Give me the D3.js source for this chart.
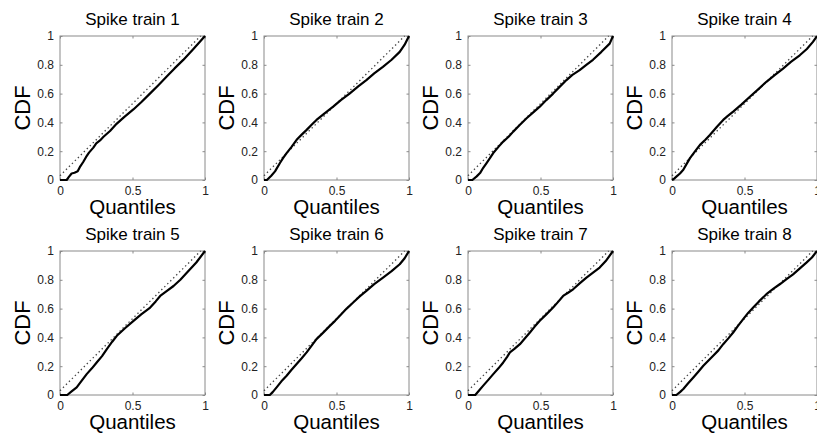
<!DOCTYPE html>
<html>
<head>
<meta charset="utf-8">
<script src="https://cdn.jsdelivr.net/npm/d3@7/dist/d3.min.js"></script>
<style>
  html, body { margin: 0; padding: 0; background: #fff; }
  svg { display: block; }
  text { font-family: "Liberation Sans", Arial, Helvetica, sans-serif; }
</style>
</head>
<body>
<svg id="chart" width="817" height="441"></svg>
<script>
// ---- data ----
const titles = ["Spike train 1","Spike train 2","Spike train 3","Spike train 4",
                "Spike train 5","Spike train 6","Spike train 7","Spike train 8"];
const xTicks = [0, 0.5, 1];
const yTicks = [0, 0.2, 0.4, 0.6, 0.8, 1];
const xLabel = "Quantiles";
const yLabel = "CDF";
// reference (dotted) line endpoints [quantile, cdf]
const refLine = [[0, 0.03], [0.97, 1]];

const train1 = [[0,0],[0.046,0],[0.06,0.02],[0.08,0.045],[0.1,0.05],[0.122,0.06],[0.14,0.095],[0.16,0.125],[0.18,0.16],[0.2,0.19],[0.23,0.225],[0.25,0.255],[0.276,0.275],[0.3,0.3],[0.345,0.34],[0.39,0.39],[0.44,0.435],[0.506,0.49],[0.56,0.54],[0.62,0.60],[0.68,0.66],[0.736,0.718],[0.79,0.775],[0.85,0.834],[0.92,0.91],[1,1]];
const train2 = [[0,0],[0.02,0],[0.05,0.03],[0.076,0.06],[0.11,0.118],[0.13,0.15],[0.156,0.187],[0.19,0.23],[0.225,0.279],[0.26,0.315],[0.294,0.348],[0.33,0.385],[0.362,0.417],[0.42,0.465],[0.477,0.509],[0.53,0.555],[0.59,0.60],[0.65,0.65],[0.706,0.694],[0.76,0.74],[0.82,0.786],[0.88,0.835],[0.936,0.89],[0.97,0.94],[1,1]];
const train3 = [[0,0],[0.03,0],[0.06,0.025],[0.083,0.048],[0.105,0.085],[0.128,0.118],[0.15,0.15],[0.174,0.187],[0.21,0.23],[0.243,0.267],[0.28,0.30],[0.312,0.336],[0.36,0.385],[0.404,0.429],[0.45,0.47],[0.495,0.509],[0.54,0.555],[0.587,0.60],[0.63,0.645],[0.679,0.694],[0.72,0.73],[0.77,0.763],[0.816,0.80],[0.862,0.835],[0.92,0.89],[0.977,0.947],[1,1]];
const train4 = [[0,0],[0.015,0.01],[0.032,0.025],[0.055,0.045],[0.078,0.071],[0.1,0.11],[0.124,0.152],[0.16,0.2],[0.193,0.244],[0.23,0.28],[0.261,0.313],[0.31,0.37],[0.353,0.417],[0.385,0.445],[0.422,0.475],[0.48,0.525],[0.537,0.578],[0.6,0.635],[0.651,0.682],[0.71,0.73],[0.766,0.774],[0.82,0.82],[0.881,0.866],[0.93,0.91],[0.972,0.959],[1,1]];
const train5 = [[0,0],[0.05,0],[0.08,0.025],[0.115,0.053],[0.15,0.1],[0.184,0.145],[0.22,0.185],[0.253,0.226],[0.29,0.27],[0.323,0.319],[0.36,0.37],[0.392,0.411],[0.45,0.465],[0.507,0.515],[0.56,0.56],[0.622,0.607],[0.66,0.65],[0.691,0.688],[0.74,0.725],[0.783,0.757],[0.83,0.80],[0.876,0.85],[0.94,0.92],[1,1]];
const train6 = [[0,0],[0.04,0],[0.06,0.02],[0.087,0.053],[0.12,0.095],[0.156,0.134],[0.19,0.175],[0.225,0.215],[0.26,0.255],[0.294,0.296],[0.33,0.345],[0.362,0.388],[0.41,0.435],[0.454,0.48],[0.49,0.515],[0.523,0.55],[0.57,0.60],[0.615,0.642],[0.66,0.685],[0.706,0.723],[0.76,0.77],[0.821,0.815],[0.88,0.86],[0.936,0.908],[0.97,0.95],[1,1]];
const train7 = [[0,0],[0.05,0],[0.075,0.03],[0.105,0.065],[0.14,0.105],[0.174,0.145],[0.21,0.185],[0.243,0.226],[0.27,0.265],[0.289,0.296],[0.32,0.32],[0.358,0.353],[0.39,0.39],[0.427,0.434],[0.46,0.475],[0.495,0.515],[0.54,0.56],[0.587,0.607],[0.62,0.645],[0.656,0.688],[0.69,0.71],[0.725,0.734],[0.77,0.775],[0.817,0.815],[0.86,0.848],[0.908,0.885],[0.95,0.93],[1,1]];
const train8 = [[0,0],[0.03,0],[0.055,0.02],[0.078,0.042],[0.11,0.08],[0.147,0.122],[0.18,0.16],[0.216,0.203],[0.25,0.238],[0.284,0.273],[0.32,0.31],[0.353,0.353],[0.39,0.395],[0.422,0.434],[0.455,0.48],[0.491,0.527],[0.525,0.57],[0.56,0.607],[0.6,0.65],[0.651,0.70],[0.7,0.738],[0.743,0.769],[0.79,0.805],[0.835,0.838],[0.88,0.878],[0.927,0.919],[0.965,0.955],[1,1]];
const trains = [train1, train2, train3, train4, train5, train6, train7, train8];

// ---- layout ----
const svg = d3.select("#chart");
const panelW = 145, panelH = 144;
const colX = [60, 264, 468, 672];
const rowY = [36, 251];

trains.forEach((data, i) => {
  const col = i % 4, row = Math.floor(i / 4);
  const g = svg.append("g").attr("transform", `translate(${colX[col]},${rowY[row]})`);
  const x = d3.scaleLinear().domain([0, 1]).range([0, panelW]);
  const y = d3.scaleLinear().domain([0, 1]).range([panelH, 0]);

  // frame
  g.append("rect").attr("x", 0).attr("y", 0).attr("width", panelW).attr("height", panelH)
    .attr("fill", "#fff").attr("stroke", "#8a8a8a").attr("stroke-width", 1);

  // axes (inward ticks) on all four sides
  const axStyle = sel => {
    sel.select(".domain").remove();
    sel.selectAll(".tick line").attr("stroke", "#8a8a8a");
  };
  const left = g.append("g").call(d3.axisLeft(y).tickValues(yTicks).tickSizeInner(-2.5).tickSizeOuter(0).tickPadding(6).tickFormat(d3.format("~g")));
  axStyle(left);
  left.selectAll(".tick text").attr("fill", "#222").style("font-size", "12px");
  const bottom = g.append("g").attr("transform", `translate(0,${panelH})`)
    .call(d3.axisBottom(x).tickValues(xTicks).tickSizeInner(-2.5).tickSizeOuter(0).tickPadding(6).tickFormat(d3.format("~g")));
  axStyle(bottom);
  bottom.selectAll(".tick text").attr("fill", "#222").style("font-size", "12px");
  const right = g.append("g").attr("transform", `translate(${panelW},0)`)
    .call(d3.axisRight(y).tickValues(yTicks).tickSizeInner(-2.5).tickSizeOuter(0).tickFormat(""));
  axStyle(right);
  const top = g.append("g")
    .call(d3.axisTop(x).tickValues(xTicks).tickSizeInner(-2.5).tickSizeOuter(0).tickFormat(""));
  axStyle(top);

  // dotted reference line
  g.append("path").datum(refLine)
    .attr("d", d3.line().x(d => x(d[0])).y(d => y(d[1])))
    .attr("fill", "none").attr("stroke", "#444").attr("stroke-width", 1.3)
    .attr("stroke-dasharray", "1.4,2.8");

  // KS curve
  g.append("path").datum(data)
    .attr("d", d3.line().x(d => x(d[0])).y(d => y(d[1])))
    .attr("fill", "none").attr("stroke", "#000").attr("stroke-width", 2.2)
    .attr("stroke-linejoin", "round");

  // title
  g.append("text").attr("x", panelW / 2).attr("y", -11.5).attr("text-anchor", "middle")
    .style("font-size", "17px").attr("fill", "#000").text(titles[i]);
  // x label
  g.append("text").attr("x", panelW / 2).attr("y", panelH + 34).attr("text-anchor", "middle")
    .style("font-size", "20.5px").attr("fill", "#000").text(xLabel);
  // y label
  g.append("text").attr("transform", `translate(-30,${panelH / 2}) rotate(-90)`)
    .attr("text-anchor", "middle").style("font-size", "22px").attr("fill", "#000").text(yLabel);
});
</script>
</body>
</html>
